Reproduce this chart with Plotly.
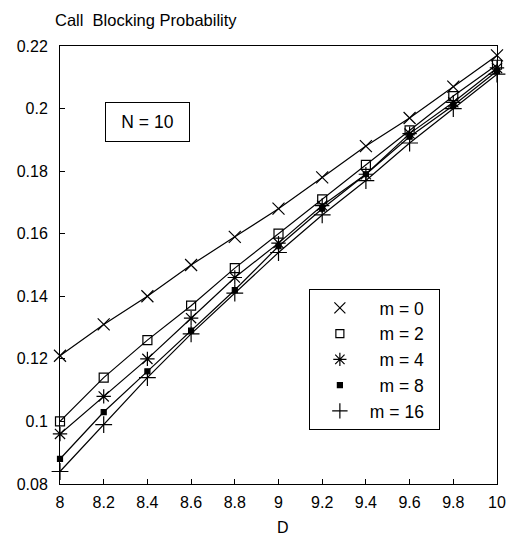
import plotly.graph_objects as go

D = [8, 8.2, 8.4, 8.6, 8.8, 9, 9.2, 9.4, 9.6, 9.8, 10]
m0 = [0.121, 0.131, 0.140, 0.150, 0.159, 0.168, 0.178, 0.188, 0.197, 0.207, 0.217]
m2 = [0.100, 0.114, 0.126, 0.137, 0.149, 0.160, 0.171, 0.182, 0.193, 0.204, 0.214]
m4 = [0.096, 0.108, 0.120, 0.133, 0.146, 0.157, 0.169, 0.179, 0.192, 0.202, 0.213]
m8 = [0.088, 0.103, 0.116, 0.129, 0.142, 0.156, 0.168, 0.179, 0.191, 0.201, 0.212]
m16 = [0.084, 0.099, 0.114, 0.128, 0.141, 0.154, 0.166, 0.177, 0.189, 0.200, 0.211]
labels = ["m = 0", "m = 2", "m = 4", "m = 8", "m = 16"]

NB = "\u00a0"
styles = [
    ("x-thin-open", 12, 11),
    ("square-open", 9, 8),
    ("asterisk-open", 12, 11),
    ("square", 5, 5),
    ("cross-thin-open", 12, 11),
]
values = [m0, m2, m4, m8, m16]

FONT = "Liberation Sans, Arial, sans-serif"
fig = go.Figure()
for name, ys, (sym, size, lsize) in zip(labels, values, styles):
    fig.add_trace(go.Scatter(
        x=D, y=ys, mode="lines+markers", name=name, showlegend=False,
        cliponaxis=False,
        line=dict(color="black", width=1.2),
        marker=dict(symbol=sym, size=size, color="black",
                    line=dict(color="black", width=1.2)),
    ))
for name, (sym, size, lsize) in zip(labels, styles):
    pad = "" if len(name) > 5 else NB * 2
    fig.add_trace(go.Scatter(
        x=[None], y=[None], mode="markers", name=pad + name + NB * 2,
        showlegend=True,
        marker=dict(symbol=sym, size=lsize, color="black",
                    line=dict(color="black", width=1.2)),
    ))

fig.update_layout(
    width=517, height=536,
    margin=dict(l=60, r=11, t=46, b=52),
    paper_bgcolor="white", plot_bgcolor="white",
    font=dict(family=FONT, size=16, color="black"),
    showlegend=True,
    legend=dict(
        x=(314 - 60) / 446, y=(484 - 289) / 438, xanchor="left", yanchor="top",
        bordercolor="black", borderwidth=1, bgcolor="white",
        font=dict(size=17.5), itemwidth=50,
    ),
    xaxis=dict(
        range=[8, 10], tickvals=D, ticktext=[f"{v:g}" for v in D],
        showline=True, linecolor="black", linewidth=1, mirror=True,
        ticks="inside", ticklen=5, tickcolor="black", showgrid=False,
        zeroline=False, tickfont=dict(size=16), ticklabelstandoff=4,
    ),
    yaxis=dict(
        range=[0.08, 0.22], dtick=0.02, tick0=0.08,
        showline=True, linecolor="black", linewidth=1, mirror=True,
        ticks="inside", ticklen=5, tickcolor="black", showgrid=False,
        zeroline=False, tickfont=dict(size=16), ticklabelstandoff=8,
    ),
    annotations=[
        dict(text="Call" + NB + " Blocking Probability", xref="paper", yref="paper",
             x=(53 - 60) / 446, y=1.0, yshift=26, xanchor="left", yanchor="middle",
             showarrow=False, font=dict(size=16.5)),
        dict(text="D", xref="paper", yref="paper", x=(288 - 60) / 446, y=0, yshift=-43,
             xanchor="center", yanchor="middle", showarrow=False,
             font=dict(size=16)),
        dict(text="N = 10", xref="paper", yref="paper",
             x=(149 - 60) / 446, y=(484 - 121.7) / 438,
             xanchor="center", yanchor="middle", showarrow=False,
             font=dict(size=17.5), bordercolor="black", borderwidth=1,
             borderpad=0, width=83, height=38, bgcolor="white"),
    ],
)
fig.write_html("out.html")
